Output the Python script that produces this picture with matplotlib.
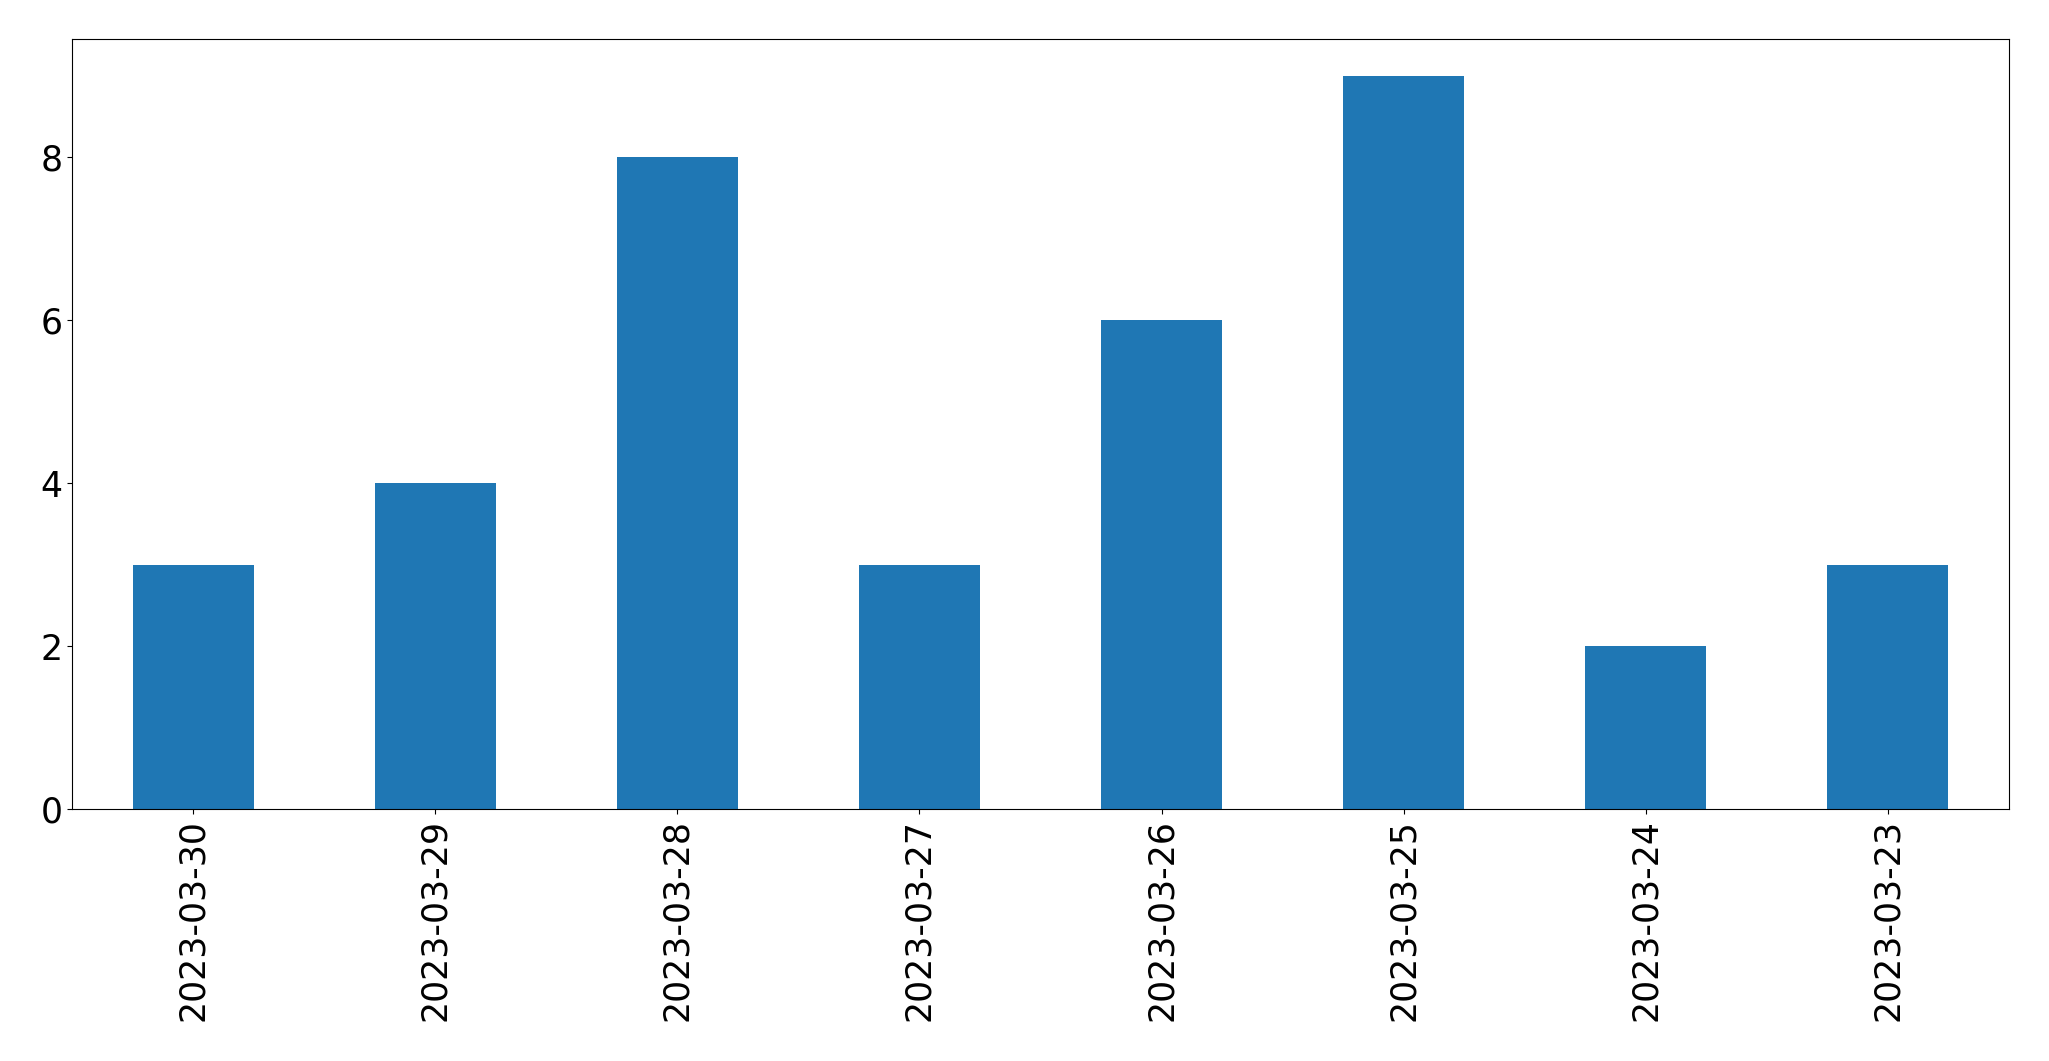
import matplotlib
matplotlib.use("Agg")
import matplotlib.pyplot as plt
import pandas as pd

dates = ["2023-03-30", "2023-03-29", "2023-03-28", "2023-03-27",
         "2023-03-26", "2023-03-25", "2023-03-24", "2023-03-23"]
counts = [3, 4, 8, 3, 6, 9, 2, 3]


def main():
    s = pd.Series(counts, index=dates)

    fig = plt.figure(figsize=(20.49, 10.61), dpi=100)
    ax = fig.add_axes([72 / 2049, 1 - 809 / 1061, (2009 - 72) / 2049, (809 - 39) / 1061])
    s.plot(kind="bar", ax=ax, color="#1f77b4")
    ax.tick_params(axis="both", labelsize=25)
    ax.set_xlabel("")
    fig.savefig("out.png", dpi=100)


if __name__ == '__main__':
    main()
